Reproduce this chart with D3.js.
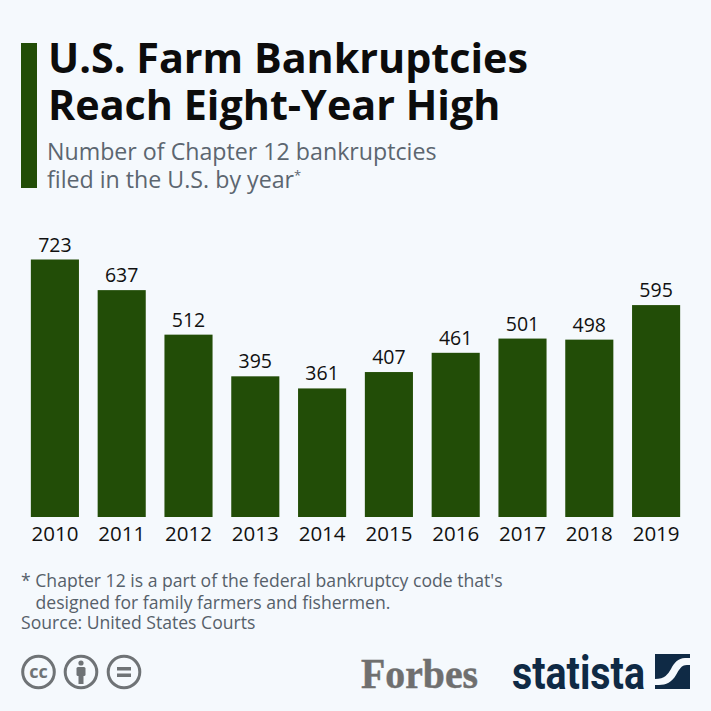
<!DOCTYPE html>
<html><head><meta charset="utf-8">
<script src="https://cdn.jsdelivr.net/npm/d3@7"></script>
<style>html,body{margin:0;padding:0;background:#f5f9fd}svg{display:block}</style>
</head><body><svg id="c" width="711" height="711"></svg>
<script>
const years=["2010","2011","2012","2013","2014","2015","2016","2017","2018","2019"];
const counts=[723,637,512,395,361,407,461,501,498,595];
const titleLines=["U.S. Farm Bankruptcies","Reach Eight-Year High"];
const noteLines=["* Chapter 12 is a part of the federal bankruptcy code that's","designed for family farmers and fishermen.","Source: United States Courts"];
const green="#224d07";
const sans='"Open Sans",sans-serif';
const svg=d3.select("#c").style("font-family",sans);
svg.append("rect").attr("width",711).attr("height",711).attr("fill","#f5f9fd");
svg.append("rect").attr("x",21).attr("y",43).attr("width",16).attr("height",145).attr("fill",green);
svg.selectAll(".t").data(titleLines).join("text").attr("x",48).attr("y",(d,i)=>[73,120][i]).text(d=>d)
 .attr("font-size",41.3).attr("font-weight",700).attr("fill","#0c0c0c");
const sub=svg.append("g").attr("fill","#5c6670").attr("font-size",23.2);
sub.append("text").attr("x",47).attr("y",160).text("Number of Chapter 12 bankruptcies");
const s2=sub.append("text").attr("x",47).attr("y",188).text("filed in the U.S. by year");
s2.append("tspan").text("*").attr("font-size",13).attr("dy",-8);
const x=d3.scaleBand().domain(years).range([21.5,689.5]).paddingInner(0.28).paddingOuter(0.14);
const y=d3.scaleLinear().domain([0,723]).range([517,259.5]);
svg.selectAll(".b").data(years).join("rect").attr("x",d=>x(d)).attr("width",x.bandwidth())
 .attr("y",(d,i)=>y(counts[i])).attr("height",(d,i)=>y(0)-y(counts[i])).attr("fill",green);
svg.selectAll(".v").data(years).join("text").attr("x",d=>x(d)+x.bandwidth()/2).attr("y",(d,i)=>y(counts[i])-8)
 .attr("text-anchor","middle").attr("font-size",19.5).attr("fill","#111").text((d,i)=>counts[i]);
const ax=svg.append("g").attr("transform","translate(0,517)").call(d3.axisBottom(x).tickSize(0).tickPadding(7));
ax.select(".domain").remove();
ax.selectAll("text").attr("font-size",20.5).attr("fill","#111").attr("font-family",sans).attr("dy","0.85em");
svg.selectAll(".n").data(noteLines).join("text").attr("x",(d,i)=>i==1?35.5:21).attr("y",(d,i)=>[587,609,629][i]).text(d=>d)
 .attr("font-size",17.6).attr("fill","#56606a");
const cc=[["cc",38.5],["i",81],["=",124]];
const ic=svg.selectAll(".ic").data(cc).join("g").attr("transform",d=>`translate(${d[1]},672)`);
ic.append("circle").attr("r",15.8).attr("fill","none").attr("stroke","#6f7376").attr("stroke-width",3);
ic.filter(d=>d[0]=="cc").append("text").text("cc").attr("text-anchor","middle").attr("y",6).attr("font-size",18).attr("font-weight",700).attr("fill","#6f7376");
ic.filter(d=>d[0]=="i").append("circle").attr("cy",-9).attr("r",2.6).attr("fill","#6f7376");
ic.filter(d=>d[0]=="i").append("rect").attr("x",-4.5).attr("y",-5).attr("width",9).attr("height",9).attr("rx",1.5).attr("fill","#6f7376");
ic.filter(d=>d[0]=="i").append("rect").attr("x",-2.5).attr("y",3).attr("width",5).attr("height",9).attr("fill","#6f7376");
ic.filter(d=>d[0]=="=").selectAll(".e").data([-5,1.5]).join("rect").attr("x",-7).attr("y",d=>d).attr("width",14).attr("height",3.5).attr("fill","#6f7376");
svg.append("text").attr("x",361).attr("y",688).text("Forbes").style("font-family","'Liberation Serif',serif").attr("font-weight",700).attr("font-size",43).attr("fill","#6f6f6f").attr("stroke","#6f6f6f").attr("stroke-width",0.5).attr("textLength",117).attr("lengthAdjust","spacingAndGlyphs");
svg.append("text").attr("x",512).attr("y",689).text("statista").style("font-family","Roboto,sans-serif").attr("font-weight",700).attr("font-size",46).attr("fill","#0f2a45").attr("textLength",133).attr("lengthAdjust","spacingAndGlyphs");
const logo=svg.append("g").attr("transform","translate(655,654)");
logo.append("rect").attr("width",35).attr("height",35).attr("fill","#0f2a45");
logo.append("path").attr("d","M0 25 C10 25 13 20 16 15 C19 9 23 4 30 4 L35 4 L35 11 L32 11 C26 11 24 16 21 21 C17 28 11 31 4 31 L0 31 Z").attr("fill","#f5f9fd");
</script></body></html>
